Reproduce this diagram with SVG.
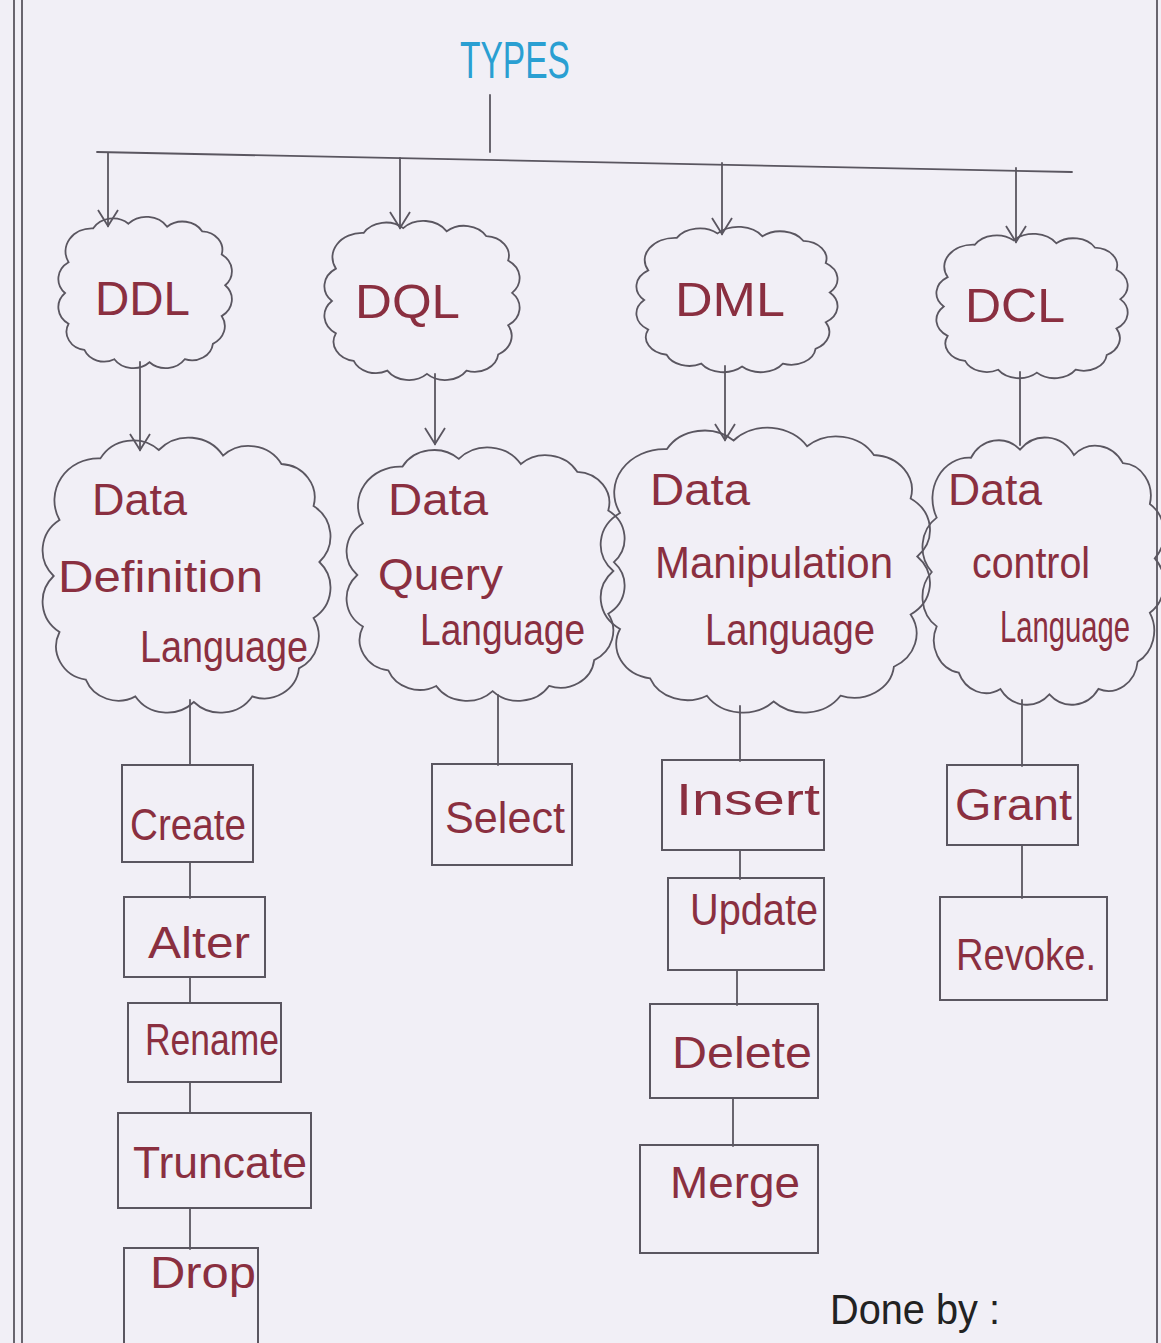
<svg xmlns="http://www.w3.org/2000/svg" width="1161" height="1343" viewBox="0 0 1161 1343">
<style>
.ln{stroke:#5a5660;stroke-width:1.8;fill:none;stroke-linecap:round}
.cl{stroke:#5a5660;stroke-width:1.8;fill:none}
.bx{stroke:#5a5660;stroke-width:2;fill:none}
.t{font-family:"Liberation Sans",Arial,sans-serif;fill:#8a2f40;font-size:44px}
.big{font-size:48px}
</style>
<defs>
<marker id="ah" markerWidth="26" markerHeight="26" refX="18" refY="12" orient="auto" markerUnits="userSpaceOnUse" overflow="visible">
<path d="M2,2 L18,12 L2,22" fill="none" stroke="#5a5660" stroke-width="1.8"/>
</marker>
<path id="cloud" vector-effect="non-scaling-stroke" d="M20,8 A13,13 0 0 1 40,5 A14,14 0 0 1 62,7 A13,13 0 0 1 82,10 A12,12 0 0 1 93,25 A13,13 0 0 1 95,45 A13,13 0 0 1 93,65 A13,13 0 0 1 88,83 A12,12 0 0 1 72,93 A13,13 0 0 1 52,95 A13,13 0 0 1 32,93 A12,12 0 0 1 15,87 A12,12 0 0 1 6,70 A13,13 0 0 1 4,50 A13,13 0 0 1 6,30 A15,15 0 0 1 20,8 Z"/>
</defs>
<rect width="1161" height="1343" fill="#f1eff6"/>
<g id="border">
<line class="ln" x1="14" y1="0" x2="14" y2="1343"/>
<line class="ln" x1="22" y1="0" x2="22" y2="1343"/>
<line class="ln" x1="1157" y1="0" x2="1157" y2="1343"/>
</g>
<g id="title"><text x="460" y="78" font-family="Liberation Sans,Arial,sans-serif" font-size="52" fill="#2a9fd2" textLength="110" lengthAdjust="spacingAndGlyphs">TYPES</text></g>
<g id="connectors">
<line class="ln" x1="490" y1="95" x2="490" y2="152"/>
<line class="ln" x1="97" y1="152" x2="1072" y2="172"/>
<line class="ln" x1="108" y1="153" x2="108" y2="226" marker-end="url(#ah)"/>
<line class="ln" x1="400" y1="158" x2="400" y2="228" marker-end="url(#ah)"/>
<line class="ln" x1="722" y1="163" x2="722" y2="234" marker-end="url(#ah)"/>
<line class="ln" x1="1016" y1="168" x2="1016" y2="242" marker-end="url(#ah)"/>
<line class="ln" x1="140" y1="362" x2="140" y2="450" marker-end="url(#ah)"/>
<line class="ln" x1="435" y1="374" x2="435" y2="444" marker-end="url(#ah)"/>
<line class="ln" x1="725" y1="366" x2="725" y2="440" marker-end="url(#ah)"/>
<line class="ln" x1="1020" y1="372" x2="1020" y2="445"/>
<line class="ln" x1="190" y1="700" x2="190" y2="765"/>
<line class="ln" x1="190" y1="862" x2="190" y2="898"/>
<line class="ln" x1="190" y1="977" x2="190" y2="1003"/>
<line class="ln" x1="190" y1="1082" x2="190" y2="1113"/>
<line class="ln" x1="190" y1="1208" x2="190" y2="1249"/>
<line class="ln" x1="498" y1="695" x2="498" y2="765"/>
<line class="ln" x1="740" y1="706" x2="740" y2="761"/>
<line class="ln" x1="740" y1="850" x2="740" y2="879"/>
<line class="ln" x1="737" y1="970" x2="737" y2="1005"/>
<line class="ln" x1="733" y1="1098" x2="733" y2="1146"/>
<line class="ln" x1="1022" y1="700" x2="1022" y2="766"/>
<line class="ln" x1="1022" y1="845" x2="1022" y2="898"/>
</g>
<g id="ddl"><use href="#cloud" class="cl" transform="translate(58,216) scale(1.76,1.54)"/><text class="t big" x="95" y="315" textLength="95" lengthAdjust="spacingAndGlyphs">DDL</text></g>
<g id="dql"><use href="#cloud" class="cl" transform="translate(324,220) scale(1.98,1.62)"/><text class="t big" x="355" y="318" textLength="105" lengthAdjust="spacingAndGlyphs">DQL</text></g>
<g id="dml"><use href="#cloud" class="cl" transform="translate(636,226) scale(2.04,1.48)"/><text class="t big" x="675" y="316" textLength="110" lengthAdjust="spacingAndGlyphs">DML</text></g>
<g id="dcl"><use href="#cloud" class="cl" transform="translate(936,233) scale(1.94,1.47)"/><text class="t big" x="965" y="322" textLength="100" lengthAdjust="spacingAndGlyphs">DCL</text></g>
<g id="ddl-full"><use href="#cloud" class="cl" transform="translate(42,436) scale(2.92,2.8)"/>
<text class="t" x="92" y="515" textLength="95" lengthAdjust="spacingAndGlyphs">Data</text>
<text class="t" x="58" y="592" textLength="205" lengthAdjust="spacingAndGlyphs">Definition</text>
<text class="t" x="140" y="662" textLength="168" lengthAdjust="spacingAndGlyphs">Language</text></g>
<g id="dql-full"><use href="#cloud" class="cl" transform="translate(346,446) scale(2.82,2.58)"/>
<text class="t" x="388" y="515" textLength="100" lengthAdjust="spacingAndGlyphs">Data</text>
<text class="t" x="378" y="590" textLength="125" lengthAdjust="spacingAndGlyphs">Query</text>
<text class="t" x="420" y="645" textLength="165" lengthAdjust="spacingAndGlyphs">Language</text></g>
<g id="dml-full"><use href="#cloud" class="cl" transform="translate(600,426) scale(3.34,2.9)"/>
<text class="t" x="650" y="505" textLength="100" lengthAdjust="spacingAndGlyphs">Data</text>
<text class="t" x="655" y="578" textLength="238" lengthAdjust="spacingAndGlyphs">Manipulation</text>
<text class="t" x="705" y="645" textLength="170" lengthAdjust="spacingAndGlyphs">Language</text></g>
<g id="dcl-full"><use href="#cloud" class="cl" transform="translate(922,436) scale(2.45,2.72)"/>
<text class="t" x="948" y="505" textLength="94" lengthAdjust="spacingAndGlyphs">Data</text>
<text class="t" x="972" y="578" textLength="118" lengthAdjust="spacingAndGlyphs">control</text>
<text class="t" x="1000" y="642" textLength="130" lengthAdjust="spacingAndGlyphs">Language</text></g>
<g id="create"><rect class="bx" x="122" y="765" width="131" height="97"/><text class="t" x="130" y="840" textLength="116" lengthAdjust="spacingAndGlyphs">Create</text></g>
<g id="alter"><rect class="bx" x="124" y="897" width="141" height="80"/><text class="t" x="148" y="958" textLength="102" lengthAdjust="spacingAndGlyphs">Alter</text></g>
<g id="rename"><rect class="bx" x="128" y="1003" width="153" height="79"/><text class="t" x="145" y="1055" textLength="134" lengthAdjust="spacingAndGlyphs">Rename</text></g>
<g id="truncate"><rect class="bx" x="118" y="1113" width="193" height="95"/><text class="t" x="133" y="1178" textLength="174" lengthAdjust="spacingAndGlyphs">Truncate</text></g>
<g id="drop"><rect class="bx" x="124" y="1248" width="134" height="100"/><text class="t" x="150" y="1288" textLength="106" lengthAdjust="spacingAndGlyphs">Drop</text></g>
<g id="select"><rect class="bx" x="432" y="764" width="140" height="101"/><text class="t" x="445" y="833" textLength="120" lengthAdjust="spacingAndGlyphs">Select</text></g>
<g id="insert"><rect class="bx" x="662" y="760" width="162" height="90"/><text class="t" x="676" y="815" textLength="144" lengthAdjust="spacingAndGlyphs">Insert</text></g>
<g id="update"><rect class="bx" x="668" y="878" width="156" height="92"/><text class="t" x="690" y="925" textLength="128" lengthAdjust="spacingAndGlyphs">Update</text></g>
<g id="delete"><rect class="bx" x="650" y="1004" width="168" height="94"/><text class="t" x="672" y="1068" textLength="140" lengthAdjust="spacingAndGlyphs">Delete</text></g>
<g id="merge"><rect class="bx" x="640" y="1145" width="178" height="108"/><text class="t" x="670" y="1198" textLength="130" lengthAdjust="spacingAndGlyphs">Merge</text></g>
<g id="grant"><rect class="bx" x="947" y="765" width="131" height="80"/><text class="t" x="955" y="820" textLength="117" lengthAdjust="spacingAndGlyphs">Grant</text></g>
<g id="revoke"><rect class="bx" x="940" y="897" width="167" height="103"/><text class="t" x="956" y="970" textLength="140" lengthAdjust="spacingAndGlyphs">Revoke.</text></g>
<g id="doneby"><text x="830" y="1324" font-family="Liberation Sans,Arial,sans-serif" font-size="42" fill="#222" textLength="170" lengthAdjust="spacingAndGlyphs">Done by :</text></g>
</svg>
